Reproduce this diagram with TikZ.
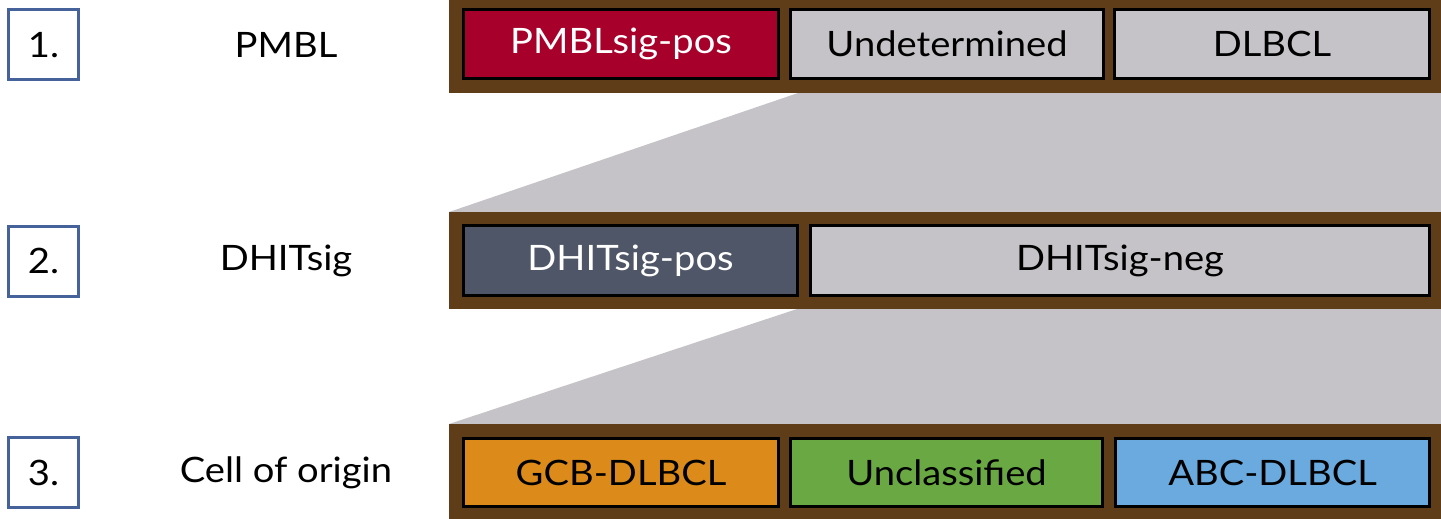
\documentclass[tikz,border=0pt]{standalone}
\usepackage{fontspec}
\setmainfont{Lato}[FakeStretch=1.09]
\definecolor{frame}{HTML}{5E3D18}
\definecolor{shade}{HTML}{C5C3C7}
\definecolor{crimson}{HTML}{A6002B}
\definecolor{slate}{HTML}{4F5667}
\definecolor{orangec}{HTML}{DC8B1A}
\definecolor{greenc}{HTML}{69A842}
\definecolor{bluec}{HTML}{6AAADF}
\definecolor{numblue}{HTML}{46629A}
\tikzset{
  txt/.style={font=\fontsize{35}{42}\selectfont, text=black, inner sep=0pt},
  cell/.style={draw=black, line width=3pt, inner sep=0pt, font=\fontsize{35}{42}\selectfont, text=black},
  numbox/.style={draw=numblue, line width=3pt, minimum width=70pt, minimum height=70pt, inner sep=0pt, font=\fontsize{35}{42}\selectfont},
  bar/.style={fill=frame},
  fan/.style={fill=shade}
}
\begin{document}
\begin{tikzpicture}[x=1pt,y=-1pt]
\useasboundingbox (0,0) rectangle (1441,519);
\clip (0,0) rectangle (1441,519);
% fans
\fill[fan] (798,93) -- (1446,93) -- (1446,212) -- (449,212) -- cycle;
\fill[fan] (797,309) -- (1446,309) -- (1446,424) -- (449,424) -- cycle;
% frames
\fill[bar] (449,-5) rectangle (1446,93);
\fill[bar] (449,212) rectangle (1446,309);
\fill[bar] (449,424) rectangle (1446,524);
% number boxes
\node[numbox] (n1) at (43.5,45) {1.};
\node[numbox] (n2) at (43.5,261) {2.};
\node[numbox] (n3) at (43.5,472.5) {3.};
% row labels
\node[txt] (l1) at (286,45) {PMBL};
\node[txt] (l2) at (286,261) {DHITsig};
\node[txt] (l3) at (286,472.5) {Cell of origin};
% row 1
\node[cell, fill=crimson, text=white, minimum width=315pt, minimum height=69pt] (pmbl) at (621,44) {PMBLsig-pos};
\node[cell, fill=shade, minimum width=313pt, minimum height=69pt] (undet) at (947,44) {Undetermined};
\node[cell, fill=shade, minimum width=315pt, minimum height=69pt] (dlbcl) at (1272,44) {DLBCL};
% row 2
\node[cell, fill=slate, text=white, minimum width=334pt, minimum height=70pt] (dhpos) at (630.5,260.5) {DHITsig-pos};
\node[cell, fill=shade, minimum width=619pt, minimum height=70pt] (dhneg) at (1120,260.5) {DHITsig-neg};
% row 3
\node[cell, fill=orangec, minimum width=315pt, minimum height=68pt] (gcb) at (621,472.5) {GCB-DLBCL};
\node[cell, fill=greenc, minimum width=312pt, minimum height=68pt] (uncl) at (946.5,472.5) {Unclassified};
\node[cell, fill=bluec, minimum width=314pt, minimum height=68pt] (abc) at (1272.5,472.5) {ABC-DLBCL};
\end{tikzpicture}
\end{document}
